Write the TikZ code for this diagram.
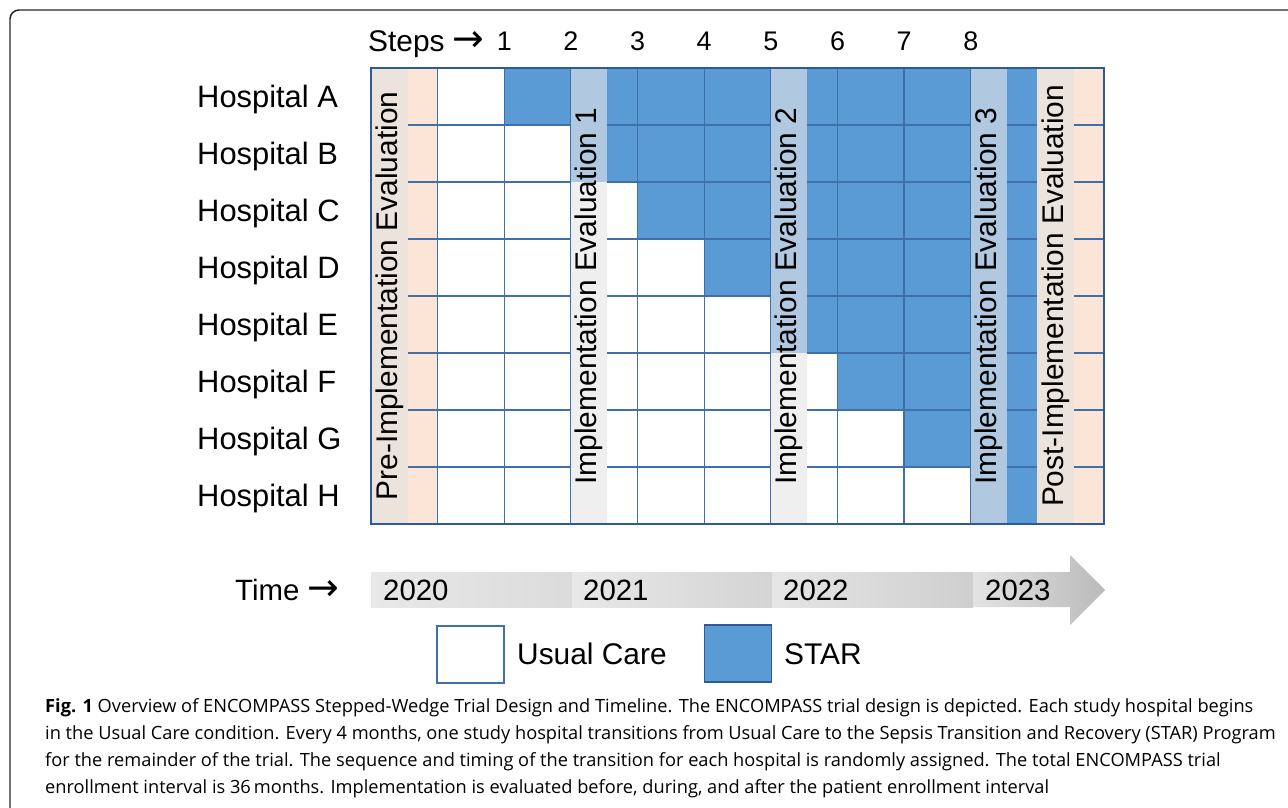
\documentclass[tikz,border=0pt]{standalone}
\usepackage{fontspec}
\setmainfont{Liberation Sans}
\newfontfamily\capfont{Open Sans}
\newfontfamily\arrowfont{DejaVu Sans}
\usepackage{tikz}
\usetikzlibrary{calc}
\definecolor{star}{RGB}{91,155,213}
\definecolor{gridline}{RGB}{64,112,170}
\definecolor{gridframe}{RGB}{47,90,150}
\definecolor{peach}{RGB}{251,229,214}
\definecolor{evalwhite}{RGB}{239,239,239}
\definecolor{evalpeach}{RGB}{236,227,221}
\definecolor{evalstar}{RGB}{176,200,224}
\newcommand{\goesto}{{\arrowfont\fontsize{38}{40}\selectfont\symbol{"2192}}}

\tikzset{
  hosplbl/.style={anchor=base west, inner sep=0pt, font=\fontsize{31}{37}\selectfont},
  steplbl/.style={anchor=base, inner sep=0pt, font=\fontsize{27}{32}\selectfont},
  evaltext/.style={rotate=90, inner sep=0pt, font=\fontsize{30}{36}\selectfont},
  yearlbl/.style={anchor=base west, inner sep=0pt, font=\fontsize{29.5}{35}\selectfont},
  keytext/.style={anchor=base west, inner sep=0pt, font=\fontsize{30}{36}\selectfont},
  caption/.style={anchor=base west, inner sep=0pt, font=\capfont\fontsize{18.3}{27}\selectfont}
}

\begin{document}
\begin{tikzpicture}[x=1bp, y=-1bp]
\useasboundingbox (0,0) rectangle (1288,808);
\draw[line width=1.5, black!85, rounded corners=9] (10,10) rectangle (1320,840);

% grid: 11 columns from 371 to 1104, 8 rows from 68 to 524
\def\cw{66.64}
\def\rh{57}
\fill[peach] (371,68) rectangle (437.64,524);
\fill[peach] (1037.36,68) rectangle (1104,524);
\foreach \i in {0,...,7}
  \fill[star] ({371+\cw*(\i+2)},{68+\rh*\i}) rectangle (1037.36,{68+\rh*(\i+1)});
\foreach \j in {1,...,10}
  \draw[gridline, line width=1.3] ({371+\cw*\j},68) -- ++(0,456);
\foreach \i in {1,...,7}
  \draw[gridline, line width=1.3] (371,{68+\rh*\i}) -- ++(733,0);

% evaluation stripes
\fill[evalpeach] (371,68) rectangle (408,524);
\fill[evalpeach] (1037.36,68) rectangle (1074.36,524);
\fill[evalstar] (570.9,68) rectangle (606.9,182);
\fill[evalwhite] (570.9,182) rectangle (606.9,524);
\fill[evalstar] (770.8,68) rectangle (806.8,353);
\fill[evalwhite] (770.8,353) rectangle (806.8,524);
\fill[evalstar] (970.7,68) rectangle (1006.7,524);
\draw[gridframe, line width=2.4] (371,68) rectangle (1104,524);

\node[evaltext] (preeval) at (389.5,296) {Pre-Implementation Evaluation};
\node[evaltext] (eval1) at (588.9,296) {Implementation Evaluation 1};
\node[evaltext] (eval2) at (788.8,296) {Implementation Evaluation 2};
\node[evaltext] (eval3) at (988.7,296) {Implementation Evaluation 3};
\node[evaltext] (posteval) at (1055.9,296) {Post-Implementation Evaluation};

% row and step labels
\foreach \h [count=\i from 0] in {A,B,C,D,E,F,G,H}
  \node[hosplbl] (hosp\h) at (197,{68+\rh*(\i+0.5)+11}) {Hospital \h};
\node[anchor=base west, inner sep=0pt, font=\fontsize{30}{36}\selectfont] (steps) at (368,52) {Steps \goesto};
\foreach \k in {1,...,8}
  \node[steplbl] (step\k) at ({371+\cw*(\k+1)},51) {\k};

% time arrow
\shade[left color=black!9, right color=black!14] (371,572) rectangle (572,607);
\shade[left color=black!9, right color=black!17] (572,572) rectangle (772,607);
\shade[left color=black!10, right color=black!19] (772,572) rectangle (973,607);
\shade[left color=black!11, right color=black!27] (973,572) -- (1070,572) -- (1070,555)
  -- (1105,590) -- (1070,625) -- (1070,607) -- (973,607) -- cycle;
\node[yearlbl] (time) at (235,600.5) {Time \goesto};
\node[yearlbl] (y2020) at (383,600.5) {2020};
\node[yearlbl] (y2021) at (583,600.5) {2021};
\node[yearlbl] (y2022) at (783,600.5) {2022};
\node[yearlbl] (y2023) at (985,600.5) {2023};

% legend
\node[draw=gridline, line width=1.5, fill=white, minimum width=66.6bp, minimum height=57bp, inner sep=0pt] (keyusual) at (470.5,654.5) {};
\node[keytext] (usual) at (517,664) {Usual Care};
\node[draw=gridframe, line width=1.2, fill=star, minimum width=67bp, minimum height=57bp, inner sep=0pt] (keystar) at (738,653.5) {};
\node[keytext] (startxt) at (784,664) {STAR};

% caption
\node[caption] (cap1) at (45,712) {\textbf{Fig. 1} Overview of ENCOMPASS Stepped-Wedge Trial Design and Timeline. The ENCOMPASS trial design is depicted. Each study hospital begins};
\node[caption] (cap2) at (45,739) {in the Usual Care condition. Every 4 months, one study hospital transitions from Usual Care to the Sepsis Transition and Recovery (STAR) Program};
\node[caption] (cap3) at (45,766) {for the remainder of the trial. The sequence and timing of the transition for each hospital is randomly assigned. The total ENCOMPASS trial};
\node[caption] (cap4) at (45,793) {enrollment interval is 36\,months. Implementation is evaluated before, during, and after the patient enrollment interval};
\end{tikzpicture}
\end{document}
